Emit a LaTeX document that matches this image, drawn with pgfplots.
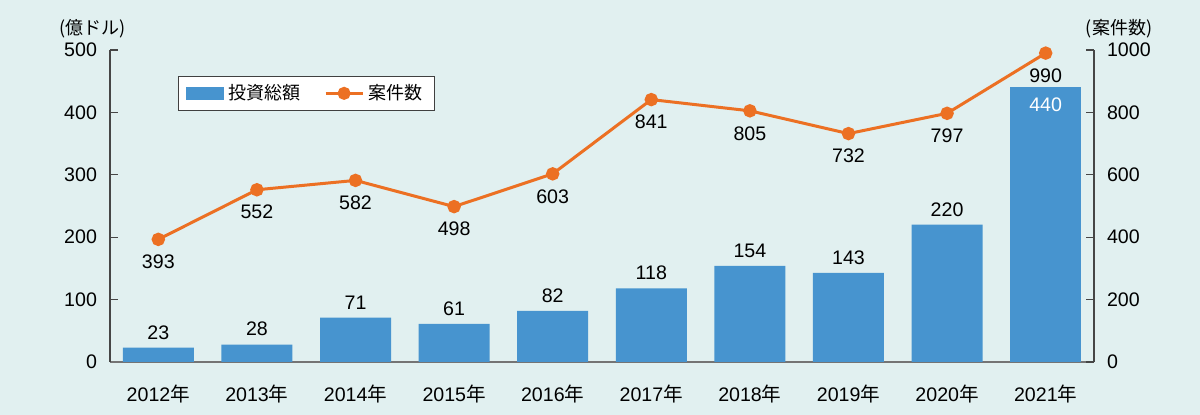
\documentclass[border=0pt]{standalone}
\usepackage{pgfplots}
\pgfplotsset{compat=1.18}
\usepackage{fontspec}
\setmainfont{Liberation Sans}
\newfontfamily\jp{Noto Sans CJK JP}
\definecolor{bgteal}{RGB}{225,240,240}
\definecolor{barblue}{RGB}{71,148,207}
\definecolor{lineorange}{RGB}{236,112,35}
\definecolor{axisgray}{RGB}{70,70,70}

\begin{document}
\begin{tikzpicture}[font=\fontsize{9.8}{11}\selectfont]
\fill[bgteal] (-55pt,-26.5pt) rectangle (545pt,181pt);
% bars, left axis
\begin{axis}[
    scale only axis, width=492pt, height=156pt,
    xmin=-0.49, xmax=9.49, ymin=0, ymax=500,
    axis x line*=bottom, axis y line*=left,
    axis line style={-},
    x axis line style={draw=axisgray!75, line width=1pt},
    y axis line style={draw=axisgray, line width=0.6pt},
    xtick={0,...,9},
    xticklabels={2012{\jp 年},2013{\jp 年},2014{\jp 年},2015{\jp 年},2016{\jp 年},2017{\jp 年},2018{\jp 年},2019{\jp 年},2020{\jp 年},2021{\jp 年}},
    xticklabel style={yshift=-4pt},
    x tick style={draw=none},
    ytick={0,100,...,500},
    yticklabel style={xshift=-3pt},
    tick align=inside, major tick length=4pt,
    y tick style={draw=axisgray, line width=0.6pt},
    /pgf/number format/assume math mode=true,
    ybar, bar width=35.5pt,
]
\addplot[fill=barblue, draw=none, bar shift=0pt, nodes near coords,
    nodes near coords style={anchor=south, inner sep=0pt, yshift=4pt, black}]
    coordinates {(0,23) (1,28) (2,71) (3,61) (4,82) (5,118) (6,154) (7,143) (8,220)};
\addplot[fill=barblue, draw=none, bar shift=0pt, nodes near coords,
    nodes near coords style={anchor=north, inner sep=0pt, yshift=-5pt, white}]
    coordinates {(9,440)};
\end{axis}
% line, right axis
\begin{axis}[
    name=ax2,
    scale only axis, width=492pt, height=156pt,
    xmin=-0.49, xmax=9.49, ymin=0, ymax=1000,
    axis x line=none, axis y line*=right,
    axis line style={-, draw=axisgray, line width=0.6pt},
    ytick={0,200,...,1000},
    yticklabel style={xshift=3pt},
    tick align=inside, major tick length=4pt,
    y tick style={draw=axisgray, line width=0.6pt},
    /pgf/number format/assume math mode=true,
    /pgf/number format/1000 sep={},
    legend style={at={(0.069,0.917)}, anchor=north west, draw=black!75, fill=white,
        font=\jp\fontsize{9}{10}\selectfont, inner xsep=4pt, inner ysep=2pt},
    legend columns=2,
    /tikz/every even column/.append style={column sep=10pt},
]
\addlegendimage{legend image code/.code={\fill[barblue] (0pt,-3pt) rectangle (18.5pt,3pt);}}
\addlegendentry{投資総額}
\addplot[lineorange, line width=1.5pt, mark=*, mark size=2.6pt,
    mark options={fill=lineorange, draw=lineorange},
    legend image code/.code={\draw[lineorange, line width=1.5pt] (0pt,0pt) -- (18.5pt,0pt);
        \fill[lineorange] (9.25pt,0pt) circle (2.5pt);},
    nodes near coords,
    nodes near coords style={anchor=north, inner sep=0pt, yshift=-7pt, black}]
    coordinates {(0,393) (1,552) (2,582) (3,498) (4,603) (5,841) (6,805) (7,732) (8,797) (9,990)};
\addlegendentry{案件数}
\end{axis}
\node[font=\jp\fontsize{9}{10}\selectfont] at ([xshift=-8.5pt, yshift=10.5pt]ax2.north west) {(億ドル)};
\node[font=\jp\fontsize{9}{10}\selectfont] at ([xshift=12.5pt, yshift=10.5pt]ax2.north east) {(案件数)};
\end{tikzpicture}
\end{document}
